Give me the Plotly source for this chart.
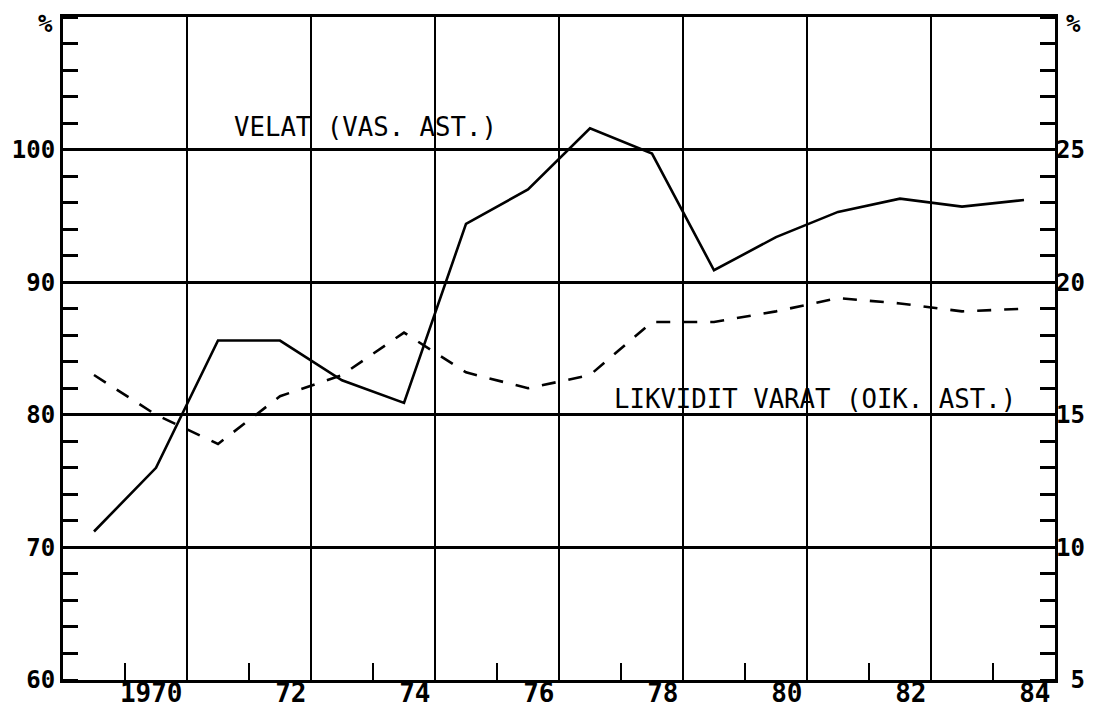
import plotly.graph_objects as go

# ---- data ----
years = [1969, 1970, 1971, 1972, 1973, 1974, 1975, 1976,
         1977, 1978, 1979, 1980, 1981, 1982, 1983, 1984]
velat = [71.2, 76.0, 85.6, 85.6, 82.6, 80.9, 94.4, 97.0,
         101.6, 99.7, 90.9, 93.4, 95.3, 96.3, 95.7, 96.2]          # left axis, %
likvidit = [16.5, 15.0, 13.9, 15.7, 16.5, 18.1, 16.6, 16.0,
            16.5, 18.5, 18.5, 18.9, 19.4, 19.2, 18.9, 19.0]        # right axis, %

x_tick_labels = ["1970", "72", "74", "76", "78", "80", "82", "84"]
left_tick_vals = [60, 70, 80, 90, 100]
left_tick_text = ["60", "70", "80", "90", "100"]
right_tick_vals = [5, 10, 15, 20, 25]
right_tick_text = ["\u00a05", "10", "15", "20", "25"]
unit_label = "%"

label_velat = "VELAT (VAS. AST.)"
label_likvidit = "LIKVIDIT VARAT (OIK. AST.)"

# ---- figure ----
xpos = [y + 0.5 for y in years]
FONT = "DejaVu Sans Mono"
TICKFONT = dict(family=FONT, size=24, color="black", weight="bold")

fig = go.Figure()
fig.add_trace(go.Scatter(x=xpos, y=velat, mode="lines",
                         line=dict(color="black", width=2.6),
                         yaxis="y", showlegend=False))
fig.add_trace(go.Scatter(x=xpos, y=likvidit, mode="lines",
                         line=dict(color="black", width=2.6, dash="14px,13px"),
                         yaxis="y2", showlegend=False))

label_year_ends = [int(t) if len(t) == 4 else 1900 + int(t) for t in x_tick_labels]
x_major = [y + 1 for y in label_year_ends]

fig.update_layout(
    width=1095, height=708,
    margin=dict(l=55, r=48, t=9, b=36, autoexpand=False),
    paper_bgcolor="white", plot_bgcolor="white",
    font=dict(family=FONT, color="black", size=24),
    xaxis=dict(
        range=[1969, 1985], automargin=False,
        tickmode="array", tickvals=x_major, ticktext=x_tick_labels,
        ticklabelposition="outside left", ticklabelshift=-3,
        ticklabelstandoff=-12,
        ticks="", showgrid=True, gridcolor="black", gridwidth=1.6,
        showline=True, linecolor="black", linewidth=3, mirror=True,
        zeroline=False,
        tickfont=dict(family=FONT, size=26, color="black", weight="bold"),
        minor=dict(tickmode="array", tickvals=label_year_ends,
                   ticks="inside", ticklen=17, tickwidth=2,
                   tickcolor="black", showgrid=False),
    ),
    yaxis=dict(
        range=[60, 110], automargin=False,
        tickmode="array", tickvals=left_tick_vals, ticktext=left_tick_text,
        ticks="", showgrid=True, gridcolor="black", gridwidth=2.6,
        showline=True, linecolor="black", linewidth=3, mirror=True,
        zeroline=False, tickfont=TICKFONT,
        minor=dict(tickmode="linear", tick0=60, dtick=2,
                   ticks="inside", ticklen=15, tickwidth=3,
                   tickcolor="black", showgrid=False),
    ),
    yaxis2=dict(
        range=[5, 30], overlaying="y", side="right", automargin=False,
        tickmode="array", tickvals=right_tick_vals, ticktext=right_tick_text,
        ticks="", showgrid=False, zeroline=False, showline=False,
        tickfont=TICKFONT,
        minor=dict(tickmode="linear", tick0=5, dtick=1,
                   ticks="inside", ticklen=15, tickwidth=3,
                   tickcolor="black", showgrid=False),
    ),
    annotations=[
        dict(text=label_velat, x=1971.72, y=101.7, xref="x", yref="y",
             xanchor="left", yanchor="middle", showarrow=False,
             font=dict(family=FONT, size=25.7, color="black")),
        dict(text=label_likvidit, x=1977.86, y=81.2, xref="x", yref="y",
             xanchor="left", yanchor="middle", showarrow=False,
             font=dict(family=FONT, size=25.7, color="black")),
        dict(text=unit_label, x=0, y=1, xref="paper", yref="paper",
             xanchor="right", yanchor="top", xshift=-9, yshift=8,
             borderpad=0, showarrow=False, font=TICKFONT),
        dict(text=unit_label, x=1, y=1, xref="paper", yref="paper",
             xanchor="left", yanchor="top", xshift=10, yshift=8,
             borderpad=0, showarrow=False, font=TICKFONT),
    ],
)

fig.write_html("out.html")
